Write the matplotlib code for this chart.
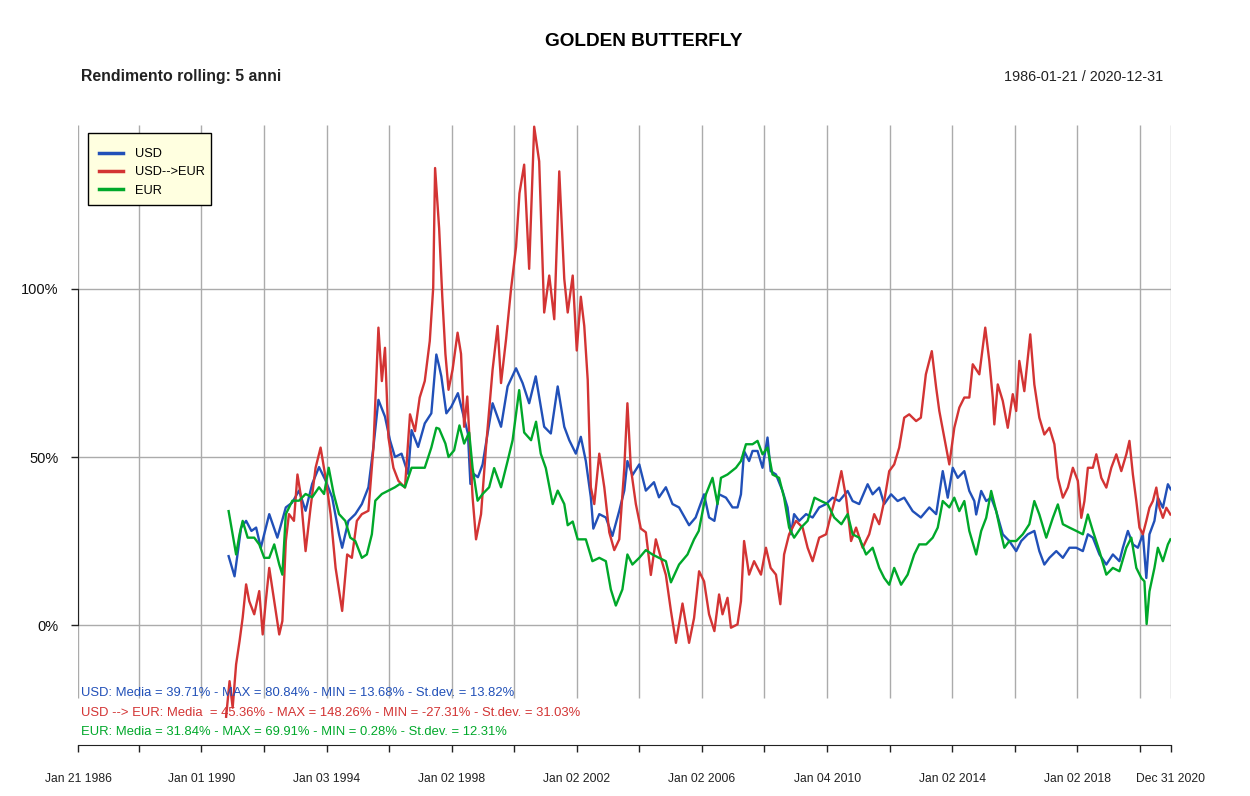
import datetime as dt

import matplotlib
matplotlib.use("Agg")
import matplotlib.pyplot as plt
import matplotlib.dates as mdates
from matplotlib.patches import Rectangle

plt.rcParams['font.family'] = ['Liberation Sans', 'DejaVu Sans']

# --- data (time in decimal years, value in %) ---
usd_t = [1990.87, 1991.06, 1991.27, 1991.43, 1991.6, 1991.75, 1991.9, 1992.17,
         1992.43, 1992.7, 1992.9, 1993.12, 1993.33, 1993.54, 1993.76, 1993.97,
         1994.18, 1994.4, 1994.5, 1994.7, 1994.92, 1995.13, 1995.34, 1995.5,
         1995.66, 1995.87, 1996.03, 1996.19, 1996.4, 1996.61, 1996.72, 1996.93,
         1997.14, 1997.35, 1997.51, 1997.6, 1997.67, 1997.83, 1997.99, 1998.2,
         1998.36, 1998.52, 1998.6, 1998.7, 1998.84, 1998.99, 1999.15, 1999.31,
         1999.58, 1999.79, 2000.06, 2000.27, 2000.48, 2000.69, 2000.96, 2001.17,
         2001.39, 2001.6, 2001.76, 2001.97, 2002.13, 2002.29, 2002.45, 2002.53,
         2002.72, 2002.93, 2003.14, 2003.36, 2003.52, 2003.62, 2003.78, 2004.0,
         2004.21, 2004.47, 2004.63, 2004.85, 2005.06, 2005.27, 2005.59, 2005.8,
         2006.07, 2006.23, 2006.4, 2006.55, 2006.77, 2006.98, 2007.14, 2007.25,
         2007.35, 2007.51, 2007.62, 2007.78, 2007.94, 2008.1, 2008.2, 2008.37,
         2008.58, 2008.74, 2008.85, 2008.95, 2009.11, 2009.33, 2009.54, 2009.75,
         2009.97, 2010.18, 2010.39, 2010.66, 2010.82, 2011.03, 2011.3, 2011.46,
         2011.67, 2011.83, 2012.05, 2012.26, 2012.47, 2012.74, 2013.0, 2013.27,
         2013.49, 2013.7, 2013.86, 2014.02, 2014.18, 2014.39, 2014.55, 2014.71,
         2014.77, 2014.93, 2015.09, 2015.25, 2015.41, 2015.62, 2015.83, 2016.05,
         2016.21, 2016.42, 2016.63, 2016.79, 2016.95, 2017.11, 2017.33, 2017.54,
         2017.75, 2017.97, 2018.18, 2018.34, 2018.5, 2018.71, 2018.93, 2019.14,
         2019.35, 2019.46, 2019.62, 2019.78, 2019.94, 2020.1, 2020.21, 2020.31,
         2020.47, 2020.58, 2020.74, 2020.9, 2020.99]
usd_v = [20.5, 14.5, 29, 31, 28, 29, 23, 33,
         26, 35, 36.4, 40, 34, 42, 47, 43,
         38, 27, 23, 31, 33, 36, 41, 53,
         67, 62, 55, 50, 51, 45, 58, 53,
         60, 63, 80.5, 77, 74, 63, 65, 69,
         63, 57, 42, 45, 44, 47.8, 57, 66,
         59, 71, 76.4, 72, 66, 74, 59, 57,
         71, 59, 55, 51, 56, 48.8, 38, 28.7,
         33, 32, 26.5, 34, 40, 48.8, 44.6, 47.8,
         40, 42.5, 38, 41, 36, 35, 29.7, 32,
         38.9, 32, 31, 38.9, 37.9, 35, 35, 38.9,
         51.8, 48.8, 51.8, 51.8, 46.8, 55.8, 45.8, 44.8,
         39.9, 35, 27, 33, 31, 33, 32, 35,
         36, 37.9, 36.9, 39.9, 36.9, 36, 41.9, 38.9,
         40.9, 36, 38.9, 36.9, 37.9, 33.9, 32, 35,
         33, 45.8, 37.9, 46.8, 43.8, 45.8, 39.9, 36.9,
         32.9, 39.9, 36.9, 37.9, 33.9, 27, 25, 22,
         25, 27, 28, 22, 18, 20, 22, 20,
         23, 23, 22, 27, 26, 21, 18, 21,
         19, 23, 28, 24, 23, 27, 14, 27,
         31, 37.9, 34.9, 41.9, 40.4]

usdeur_t = [1990.79, 1990.9, 1991.0, 1991.11, 1991.22, 1991.32, 1991.43, 1991.53,
            1991.69, 1991.85, 1991.96, 1992.06, 1992.17, 1992.33, 1992.49, 1992.59,
            1992.7, 1992.8, 1992.96, 1993.07, 1993.17, 1993.33, 1993.49, 1993.65,
            1993.81, 1993.97, 1994.13, 1994.29, 1994.5, 1994.66, 1994.81, 1994.97,
            1995.13, 1995.34, 1995.5, 1995.66, 1995.77, 1995.87, 1995.98, 1996.14,
            1996.3, 1996.51, 1996.67, 1996.83, 1996.98, 1997.14, 1997.3, 1997.41,
            1997.47, 1997.6, 1997.7, 1997.8, 1997.9, 1998.03, 1998.19, 1998.3,
            1998.4, 1998.5, 1998.67, 1998.78, 1998.94, 1999.1, 1999.31, 1999.47,
            1999.58, 1999.74, 1999.9, 2000.06, 2000.17, 2000.32, 2000.48, 2000.64,
            2000.8, 2000.96, 2001.12, 2001.28, 2001.44, 2001.6, 2001.71, 2001.87,
            2002.0, 2002.13, 2002.24, 2002.35, 2002.45, 2002.56, 2002.72, 2002.88,
            2003.04, 2003.2, 2003.36, 2003.52, 2003.62, 2003.73, 2003.89, 2004.05,
            2004.21, 2004.37, 2004.53, 2004.69, 2004.85, 2005.01, 2005.17, 2005.38,
            2005.59, 2005.75, 2005.91, 2006.07, 2006.23, 2006.4, 2006.55, 2006.66,
            2006.82, 2006.93, 2007.14, 2007.25, 2007.35, 2007.51, 2007.67, 2007.89,
            2008.05, 2008.2, 2008.37, 2008.51, 2008.63, 2008.79, 2009.01, 2009.22,
            2009.38, 2009.54, 2009.75, 2009.97, 2010.13, 2010.3, 2010.46, 2010.61,
            2010.77, 2010.93, 2011.14, 2011.35, 2011.51, 2011.67, 2011.83, 2011.99,
            2012.15, 2012.31, 2012.47, 2012.63, 2012.85, 2013.0, 2013.16, 2013.35,
            2013.49, 2013.59, 2013.75, 2013.91, 2014.07, 2014.23, 2014.39, 2014.55,
            2014.66, 2014.87, 2015.06, 2015.19, 2015.3, 2015.35, 2015.46, 2015.62,
            2015.78, 2015.94, 2016.05, 2016.15, 2016.31, 2016.5, 2016.63, 2016.79,
            2016.95, 2017.11, 2017.27, 2017.38, 2017.54, 2017.7, 2017.86, 2018.02,
            2018.13, 2018.23, 2018.34, 2018.5, 2018.61, 2018.77, 2018.93, 2019.09,
            2019.25, 2019.41, 2019.57, 2019.67, 2019.78, 2019.89, 2019.99, 2020.1,
            2020.21, 2020.31, 2020.42, 2020.53, 2020.63, 2020.74, 2020.85, 2020.98]
usdeur_v = [-27.3, -16.7, -24.6, -11.7, -4.8, 2.2, 12.1, 7.1,
            3.2, 10.1, -2.8, 7.1, 17, 7.1, -2.8, 1.2,
            25, 33, 31, 44.8, 39, 22, 35, 46.8,
            52.8, 43.8, 33, 17, 4.2, 21, 20, 31,
            33, 34, 52.8, 88.5, 72.6, 82.5, 55.8, 46.8,
            42.9, 40.9, 62.7, 57.7, 67.7, 72.6, 84.5, 100.4,
            136, 118, 97.7, 80.7, 70, 76, 87, 80.7,
            59, 68, 38, 25.5, 33, 53, 76, 89,
            72, 85, 100, 112.5, 128.5, 137, 106, 148.3,
            138, 93, 104, 91, 135, 103, 93, 104,
            81.7, 97.7, 89, 73, 41, 36, 51, 41,
            27.6, 22.3, 25.5, 46.7, 66, 46.7, 36, 28.7,
            27.6, 14.9, 25.5, 20, 14.9, 4.2, -5.3, 6.4,
            -5.3, 2.1, 16, 13, 3.2, -1.8, 9.1, 3.2,
            8.1, -0.8, 0.2, 7.1, 25, 15, 19, 15,
            23, 17, 15, 6.2, 21, 27, 31, 29,
            23, 19, 26, 27, 33, 38.9, 45.8, 37.9,
            25, 29, 23, 27, 33, 30, 36.9, 45.8,
            47.8, 52.8, 61.7, 62.7, 60.7, 61.7, 74.6, 81.5,
            70.6, 63.7, 55.8, 47.8, 58.7, 64.7, 67.7, 67.7,
            77.6, 74.6, 88.5, 78.6, 67.7, 59.7, 71.6, 66.7,
            58.7, 68.7, 63.7, 78.6, 69.6, 86.5, 71.6, 61.7,
            56.7, 58.7, 53.8, 43.8, 37.9, 40.9, 46.8, 42.9,
            31.9, 36.9, 46.8, 46.8, 50.8, 43.8, 40.9, 46.8,
            50.8, 45.8, 50.8, 54.8, 44.8, 36.9, 29, 27,
            31, 34.9, 36.9, 40.9, 34.9, 31.9, 34.9, 32.9]

eur_t = [1990.87, 1991.0, 1991.11, 1991.22, 1991.32, 1991.48, 1991.69, 1991.85,
         1992.01, 1992.17, 1992.33, 1992.49, 1992.59, 1992.7, 1992.91, 1993.12,
         1993.33, 1993.54, 1993.76, 1993.92, 1994.07, 1994.23, 1994.4, 1994.6,
         1994.76, 1994.92, 1995.13, 1995.29, 1995.45, 1995.56, 1995.77, 1995.98,
         1996.19, 1996.35, 1996.51, 1996.72, 1996.93, 1997.14, 1997.35, 1997.51,
         1997.6, 1997.8, 1997.9, 1998.08, 1998.25, 1998.4, 1998.56, 1998.67,
         1998.83, 1998.99, 1999.2, 1999.36, 1999.58, 1999.79, 1999.95, 2000.16,
         2000.32, 2000.54, 2000.7, 2000.85, 2001.01, 2001.23, 2001.39, 2001.6,
         2001.71, 2001.87, 2002.03, 2002.29, 2002.5, 2002.72, 2002.93, 2003.09,
         2003.25, 2003.46, 2003.62, 2003.78, 2004.0, 2004.21, 2004.42, 2004.63,
         2004.85, 2005.01, 2005.27, 2005.54, 2005.75, 2005.9, 2006.13, 2006.34,
         2006.5, 2006.61, 2006.82, 2007.09, 2007.25, 2007.41, 2007.62, 2007.78,
         2007.94, 2008.1, 2008.26, 2008.47, 2008.63, 2008.79, 2008.95, 2009.17,
         2009.38, 2009.6, 2009.81, 2010.02, 2010.23, 2010.46, 2010.66, 2010.82,
         2011.03, 2011.25, 2011.46, 2011.67, 2011.83, 2011.99, 2012.15, 2012.37,
         2012.58, 2012.79, 2012.95, 2013.17, 2013.38, 2013.54, 2013.7, 2013.91,
         2014.07, 2014.23, 2014.39, 2014.55, 2014.77, 2014.93, 2015.09, 2015.25,
         2015.41, 2015.57, 2015.67, 2015.83, 2016.05, 2016.26, 2016.47, 2016.63,
         2016.79, 2017.01, 2017.22, 2017.38, 2017.54, 2017.75, 2017.97, 2018.18,
         2018.34, 2018.5, 2018.71, 2018.93, 2019.14, 2019.35, 2019.57, 2019.73,
         2019.89, 2020.05, 2020.15, 2020.22, 2020.31, 2020.47, 2020.58, 2020.74,
         2020.9, 2020.98]
eur_v = [33.9, 27, 21, 27, 31, 26, 26, 24,
         20, 20, 24, 18, 15, 33, 37, 37,
         39, 38, 41, 39, 46.8, 39, 33, 31,
         26, 25, 20, 21, 27, 37, 39, 40,
         41, 42, 41, 46.8, 46.8, 46.8, 52.8, 58.7,
         58.4, 54, 50, 52, 59.4, 54, 57.3, 46.7,
         37, 39, 41, 46.7, 41, 48.8, 55, 69.9,
         57.3, 55, 60.5, 51, 46.7, 36, 40, 36,
         29.7, 30.8, 25.5, 25.5, 19, 20, 19, 10.6,
         5.8, 10.6, 21, 18, 20, 22.3, 21, 20,
         19, 12.7, 18, 21, 25.5, 28, 38.9, 43.8,
         36, 43.8, 44.8, 46.8, 48.8, 53.8, 53.8, 54.8,
         50.8, 52.8, 44.8, 43.8, 37.9, 29, 26, 29,
         31, 37.9, 36.9, 36, 32, 30, 33, 27,
         26, 21, 23, 17, 14, 12, 17, 12,
         15, 21, 24, 24, 26, 29, 36.9, 35,
         37.9, 33.9, 36.9, 28, 21, 28, 31.9, 39.9,
         33.9, 27, 23, 25, 25, 27, 30, 36.9,
         32.9, 26, 31.9, 35.9, 30, 29, 28, 27,
         32.9, 28, 22, 15, 17, 16, 23, 26,
         17, 14, 13, 0.3, 10, 17, 23, 19,
         24, 25.5]

series_names = ["USD", "USD-->EUR", "EUR"]
series_colors = ["#2150B8", "#D33434", "#00A82A"]

stats_lines = [
    "USD: Media = 39.71% - MAX = 80.84% - MIN = 13.68% - St.dev. = 13.82%",
    "USD --> EUR: Media  = 45.36% - MAX = 148.26% - MIN = -27.31% - St.dev. = 31.03%",
    "EUR: Media = 31.84% - MAX = 69.91% - MIN = 0.28% - St.dev. = 12.31%",
]

start_date = dt.datetime(1986, 1, 21)
end_date = dt.datetime(2020, 12, 31)

# vertical grid / ticks every two years, labels every four
grid_dates = [start_date, dt.datetime(1988, 1, 4), dt.datetime(1990, 1, 1),
              dt.datetime(1992, 1, 2), dt.datetime(1994, 1, 3),
              dt.datetime(1996, 1, 2), dt.datetime(1998, 1, 2),
              dt.datetime(2000, 1, 3), dt.datetime(2002, 1, 2),
              dt.datetime(2004, 1, 2), dt.datetime(2006, 1, 2),
              dt.datetime(2008, 1, 2), dt.datetime(2010, 1, 4),
              dt.datetime(2012, 1, 3), dt.datetime(2014, 1, 2),
              dt.datetime(2016, 1, 4), dt.datetime(2018, 1, 2),
              dt.datetime(2020, 1, 2), end_date]
grid_labels = ["Jan 21 1986", "", "Jan 01 1990", "", "Jan 03 1994", "",
               "Jan 02 1998", "", "Jan 02 2002", "", "Jan 02 2006", "",
               "Jan 04 2010", "", "Jan 02 2014", "", "Jan 02 2018", "",
               "Dec 31 2020"]

y_ticks = [0, 50, 100]
y_labels = ["0%", "50%", "100%"]


def to_dates(years):
    """Convert decimal years to datetimes."""
    out = []
    for y in years:
        base = dt.datetime(int(y), 1, 1)
        out.append(base + dt.timedelta(days=(y - int(y)) * 365.25))
    return out


W, H = 1250, 796
fig = plt.figure(figsize=(W / 100, H / 100), dpi=100)
ax = fig.add_axes([78 / W, 51 / H, 1093 / W, 620 / H])

# grid first, series on top
ax.vlines(grid_dates, -21.7, 148.8, color="#ABABAB", lw=1, zorder=1)
ax.hlines(y_ticks, start_date, end_date, color="#ABABAB", lw=1, zorder=1)

for t, v, name, col in zip([usd_t, usdeur_t, eur_t],
                           [usd_v, usdeur_v, eur_v],
                           series_names, series_colors):
    ax.plot(to_dates(t), v, color=col, lw=1.7, label=name, zorder=3)

ax.set_xlim(start_date, end_date)
ax.set_ylim(-35.7, 148.8)

# axes styled like base R plots
for side in ["top", "right"]:
    ax.spines[side].set_visible(False)
ax.spines["left"].set_bounds(0, 100)
ax.spines["left"].set_color("#222222")
ax.spines["bottom"].set_color("#222222")

ax.set_xticks(mdates.date2num(grid_dates))
ax.set_xticklabels(grid_labels, fontsize=8.7, color="#222222")
ax.tick_params(axis="x", length=5, width=1, pad=15, color="#222222")

ax.set_yticks(y_ticks)
ax.set_yticklabels(y_labels, fontsize=10.5, color="#111111")
ax.tick_params(axis="y", length=5, width=1, pad=9, color="#222222")

# legend box drawn by hand (R style: wider left padding), entries on top
box = Rectangle((88 / W, 1 - 205 / H), 123 / W, 72 / H,
                transform=fig.transFigure, facecolor="#FFFFE0",
                edgecolor="black", lw=1, zorder=4, clip_on=False)
ax.add_patch(box)
leg = ax.legend(loc="upper left", bbox_to_anchor=(99 / W, 1 - 148 / H),
                bbox_transform=fig.transFigure, borderaxespad=0,
                borderpad=0, fontsize=9.2, handlelength=1.85,
                handletextpad=0.95, labelspacing=0.5, frameon=False)
leg.set_zorder(5)
for line in leg.get_lines():
    line.set_linewidth(2.5)

# stats below the series
for i, (txt, col) in enumerate(zip(stats_lines, series_colors)):
    fig.text(81 / W, 1 - (693 + 19.5 * i) / H, txt, color=col,
             fontsize=9.4, ha="left", va="center")

fig.text(643.5 / W, 1 - 41 / H, "GOLDEN BUTTERFLY", ha="center",
         va="center", fontsize=13.7, fontweight="bold")
fig.text(81 / W, 1 - 77 / H, "Rendimento rolling: 5 anni", ha="left",
         va="center", fontsize=11.4, fontweight="bold", color="#222222")
fig.text(1163 / W, 1 - 77 / H, "1986-01-21 / 2020-12-31", ha="right",
         va="center", fontsize=10.4, color="#222222")

fig.savefig("out.png", dpi=100)
